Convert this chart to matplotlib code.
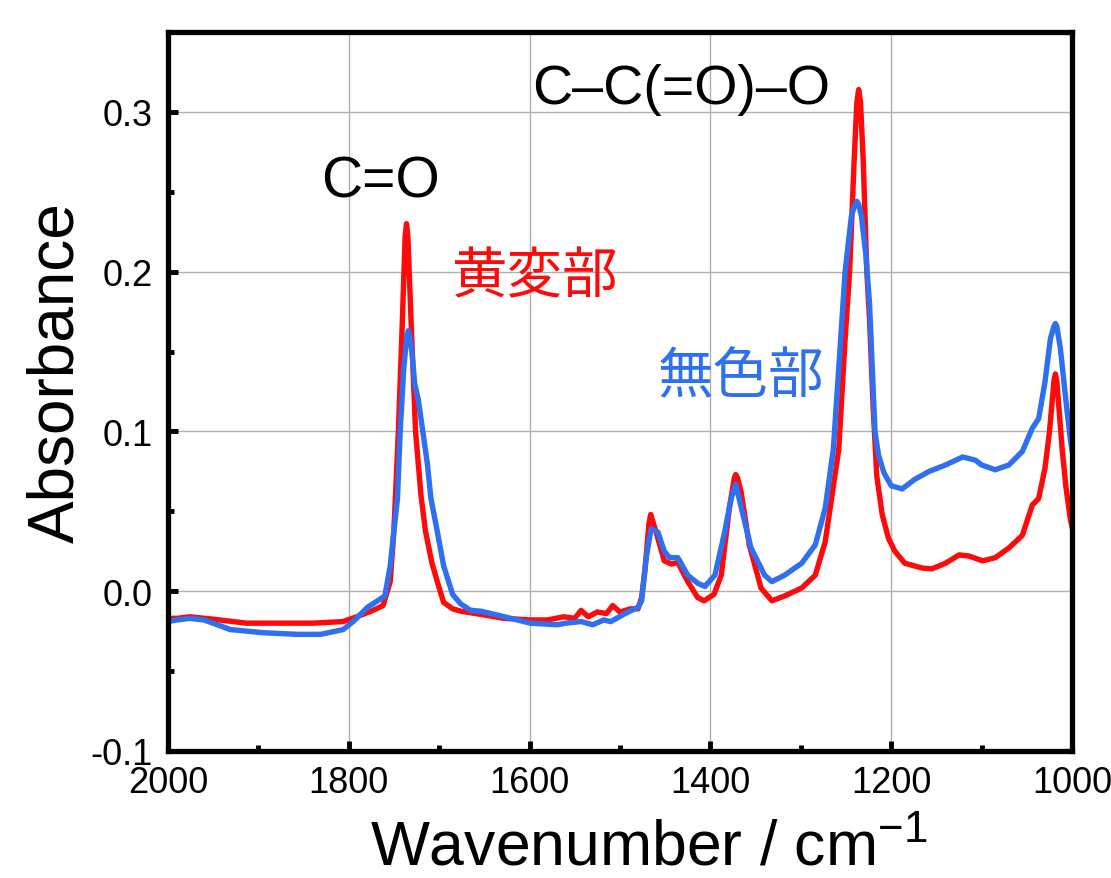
# FT-IR spectra: yellowed part vs colourless part

import matplotlib
matplotlib.use("Agg")
import matplotlib.pyplot as plt
from matplotlib.ticker import MultipleLocator, FormatStrFormatter

plt.rcParams['font.family'] = ['Liberation Sans', 'Noto Sans CJK JP']
plt.rcParams['mathtext.fontset'] = 'custom'
plt.rcParams['mathtext.rm'] = 'Liberation Sans'
plt.rcParams['axes.unicode_minus'] = False

# Data
red_wn = [2000, 1990, 1976, 1950, 1913, 1876, 1839, 1806, 1791, 1773, 1762, 1754,
          1750, 1745, 1741, 1737.5, 1736, 1734.5, 1730.5, 1726, 1720, 1715, 1708,
          1702, 1695, 1685, 1676, 1654, 1628, 1599, 1580, 1562, 1550, 1543, 1535,
          1525, 1515, 1508, 1500, 1488, 1480, 1476, 1472, 1468, 1466, 1460, 1451,
          1443, 1436, 1425, 1414, 1407, 1396, 1388, 1379, 1373.5, 1372, 1370,
          1366, 1357, 1344, 1332, 1318, 1299, 1284, 1273, 1266, 1258, 1251, 1246,
          1241, 1238, 1236, 1234, 1231, 1227, 1224, 1220, 1216, 1210, 1203, 1196,
          1185, 1166, 1155, 1140, 1125, 1114, 1099, 1085, 1070, 1055, 1044, 1037,
          1030, 1025, 1020, 1018.5, 1017, 1011, 1007, 1002, 1000]
red_abs = [-0.017, -0.017, -0.016, -0.0175, -0.020, -0.020, -0.020, -0.019, -0.016,
           -0.012, -0.009, 0.006, 0.0375, 0.100, 0.1625, 0.222, 0.230, 0.222,
           0.1625, 0.100, 0.060, 0.0375, 0.018, 0.006, -0.007, -0.011, -0.0125,
           -0.0145, -0.017, -0.018, -0.018, -0.016, -0.017, -0.012, -0.016,
           -0.013, -0.014, -0.009, -0.013, -0.011, -0.011, -0.004, 0.015, 0.042,
           0.048, 0.037, 0.019, 0.017, 0.018, 0.006, -0.004, -0.006, -0.002,
           0.010, 0.052, 0.071, 0.073, 0.071, 0.062, 0.029, 0.002, -0.006,
           -0.003, 0.002, 0.010, 0.031, 0.058, 0.089, 0.158, 0.200, 0.270, 0.306,
           0.314, 0.306, 0.270, 0.200, 0.170, 0.115, 0.072, 0.048, 0.033, 0.025,
           0.0175, 0.0145, 0.014, 0.0175, 0.0227, 0.022, 0.019, 0.021, 0.027,
           0.035, 0.054, 0.058, 0.077, 0.100, 0.132, 0.136, 0.132, 0.089, 0.066,
           0.045, 0.040]

blue_wn = [2000, 1990, 1976, 1960, 1950, 1931, 1894, 1857, 1831, 1806, 1795, 1779,
           1768, 1760, 1754, 1750, 1746, 1743, 1739, 1735.5, 1734, 1732.5, 1730,
           1727, 1723, 1718, 1713, 1709, 1702, 1695, 1685, 1676, 1665, 1654, 1635,
           1599, 1569, 1560, 1543, 1530, 1518, 1510, 1496, 1480, 1476, 1471,
           1465.5, 1458, 1451, 1445, 1436, 1425, 1414, 1406, 1395, 1385, 1377,
           1372, 1364, 1355, 1340, 1332, 1318, 1299, 1284, 1273, 1264, 1258, 1251,
           1244, 1240, 1238, 1236, 1233, 1228, 1224, 1221, 1218, 1214, 1208, 1200,
           1188, 1174, 1158, 1140, 1121, 1107, 1100, 1085, 1070, 1055, 1044, 1037,
           1030, 1024, 1020, 1018.5, 1017, 1013, 1007, 1002, 1000]
blue_abs = [-0.019, -0.018, -0.017, -0.018, -0.020, -0.024, -0.026, -0.027, -0.027,
            -0.024, -0.019, -0.010, -0.006, -0.003, 0.016, 0.0375, 0.058, 0.100,
            0.140, 0.160, 0.163, 0.160, 0.150, 0.130, 0.120, 0.100, 0.080, 0.058,
            0.0375, 0.016, -0.002, -0.008, -0.012, -0.0125, -0.015, -0.020,
            -0.021, -0.020, -0.019, -0.021, -0.018, -0.019, -0.0145, -0.010,
            -0.006, 0.021, 0.039, 0.037, 0.025, 0.021, 0.021, 0.010, 0.005, 0.003,
            0.010, 0.035, 0.058, 0.067, 0.048, 0.027, 0.010, 0.006, 0.010, 0.0175,
            0.029, 0.052, 0.089, 0.140, 0.200, 0.235, 0.242, 0.244, 0.242, 0.235,
            0.210, 0.180, 0.140, 0.100, 0.085, 0.074, 0.066, 0.064, 0.070, 0.075,
            0.079, 0.084, 0.082, 0.079, 0.076, 0.079, 0.0875, 0.102, 0.108, 0.131,
            0.158, 0.166, 0.1675, 0.166, 0.152, 0.120, 0.095, 0.088]

red = '#ff0a0a'
blue = '#2f70f0'

fig = plt.figure(figsize=(11.11, 8.79), dpi=100)
ax = fig.add_axes([0.151, 0.1445, 0.814, 0.818])

ax.plot(red_wn, red_abs, color=red, lw=3.9, solid_joinstyle='round')
ax.plot(blue_wn, blue_abs, color=blue, lw=3.9, solid_joinstyle='round')

ax.set_xlim(2000, 1000)
ax.set_ylim(-0.1, 0.35)
ax.xaxis.set_major_locator(MultipleLocator(200))
ax.xaxis.set_minor_locator(MultipleLocator(100))
ax.yaxis.set_major_locator(MultipleLocator(0.1))
ax.yaxis.set_minor_locator(MultipleLocator(0.05))
ax.yaxis.set_major_formatter(FormatStrFormatter('%.1f'))

ax.grid(True, which='major', color='#b0b0b0', lw=1.0)
ax.set_axisbelow(True)
for s in ax.spines.values():
    s.set_linewidth(3.8)
ax.tick_params(which='both', direction='in', width=3.5, labelsize=26,
               top=False, right=False)
ax.tick_params(which='major', length=7)
ax.tick_params(which='minor', length=4.5)
ax.tick_params(axis='y', pad=11)
ax.tick_params(axis='x', pad=10)

ax.set_xlabel('Wavenumber / cm$^{-1}$', fontsize=45)
ax.set_ylabel('Absorbance', fontsize=46)
ax.xaxis.set_label_coords(0.532, -0.158, transform=ax.transAxes)
ax.yaxis.set_label_coords(-0.104, 0.528, transform=ax.transAxes)
ax.xaxis.label.set_va('baseline')
ax.yaxis.label.set_va('baseline')

# peak labels
ax.text(1765, 0.247, 'C=O', fontsize=41, ha='center', va='baseline')
ax.text(1432, 0.3056, 'C\u2013C(=O)\u2013O', fontsize=40, ha='center', va='baseline')
ax.text(1594, 0.197, '黄変部', fontsize=40, color=red, ha='center', va='center',
        family=['Noto Sans CJK JP'])
ax.text(1366, 0.134, '無色部', fontsize=40, color=blue, ha='center', va='center',
        family=['Noto Sans CJK JP'])

fig.savefig('out.png', dpi=100)
